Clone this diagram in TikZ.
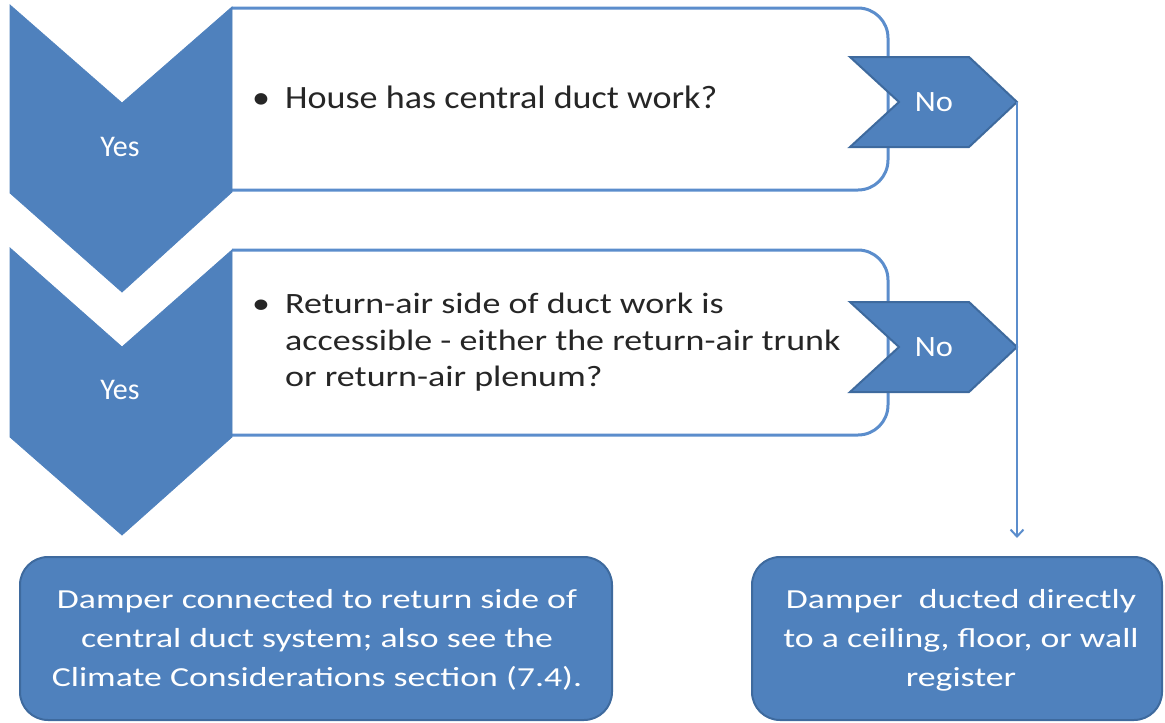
\documentclass[tikz,border=0pt]{standalone}
\usepackage{fontspec}
\setmainfont{Carlito}
\newfontfamily\fqa[FakeStretch=1.11]{Carlito}
\newfontfamily\fqb[FakeStretch=1.22]{Carlito}
\newfontfamily\fend[FakeStretch=1.3]{Carlito}
\newfontfamily\fno[FakeStretch=1.1]{Carlito}
\usetikzlibrary{arrows.meta}
\definecolor{ofblue}{HTML}{4F81BD}
\definecolor{ofdark}{HTML}{3E6A9E}
\definecolor{boxline}{HTML}{5B8DCC}
\definecolor{txtgray}{HTML}{262626}
\begin{document}
\begin{tikzpicture}[x=1pt,y=-1pt,
  chev/.style={fill=ofblue,draw=ofblue,line width=0.8pt},
  qbox/.style={fill=white,draw=boxline,line width=3pt,rounded corners=30pt},
  nochev/.style={fill=ofblue,draw=ofdark,line width=2pt,line join=miter},
  endbox/.style={fill=ofblue,draw=ofdark,line width=2pt,rounded corners=28pt},
  wlabel/.style={text=white,inner sep=0pt},
  qtext/.style={text=txtgray,anchor=base west,inner sep=0pt,align=left},
  etext/.style={text=white,align=center,inner sep=0pt,font=\fend\fontsize{27.5}{39}\selectfont},
  conn/.style={draw=boxline,line width=2.5pt,-{Straight Barb[length=7pt,width=13pt,line width=2pt]}}]
\useasboundingbox (0,0) rectangle (1165,723);
% question boxes
\filldraw[qbox] (232,8) -- (888,8) -- (888,190) -- (232,190);
\filldraw[qbox] (232,250) -- (888,250) -- (888,435) -- (232,435);
% Yes chevrons
\filldraw[chev] (10,5) -- (122,103) -- (232,7) -- (232,192) -- (122,292) -- (10,193) -- cycle;
\filldraw[chev] (10,248) -- (122,347) -- (232,250) -- (232,437) -- (122,535) -- (10,437) -- cycle;
\node[wlabel,font=\fontsize{30}{32}\selectfont] (yes1) at (120,147) {Yes};
\node[wlabel,font=\fontsize{30}{32}\selectfont] (yes2) at (120,390) {Yes};
% question texts
\node[qtext,font=\fqa\fontsize{32.5}{37}\selectfont] (q1) at (252,108)
  {\makebox[33pt][l]{\textbullet}House has central duct work?};
\node[qtext,font=\fqb\fontsize{29.5}{36.5}\selectfont,anchor=north west] (q2) at (252,293)
  {\makebox[33pt][l]{\textbullet}Return-air side of duct work is\\
   \hspace*{33pt}accessible - either the return-air trunk\\
   \hspace*{33pt}or return-air plenum?};
% No chevrons
\filldraw[nochev] (850,57) -- (969,57) -- (1017,102) coordinate (no1tip) -- (969,147) -- (850,147) -- (899,102) -- cycle;
\filldraw[nochev] (850,302) -- (969,302) -- (1017,347) coordinate (no2tip) -- (969,392) -- (850,392) -- (899,347) -- cycle;
\node[wlabel,font=\fno\fontsize{29.5}{32}\selectfont] (no1) at (934,102) {No};
\node[wlabel,font=\fno\fontsize{29.5}{32}\selectfont] (no2) at (934,347) {No};
% connector
\coordinate (arrowend) at (1017,538);
\draw[conn] (no1tip) -- (arrowend);
% end boxes
\filldraw[endbox] (20,557) rectangle (612,720);
\filldraw[endbox] (752,557) rectangle (1162,720);
\node[etext] (e1) at (317,640) {Damper connected to return side of\\central duct system; also see the\\Climate Considerations section (7.4).};
\node[etext] (e2) at (961,640) {Damper\ \ ducted directly\\to a ceiling, floor, or wall\\register};
\end{tikzpicture}
\end{document}
